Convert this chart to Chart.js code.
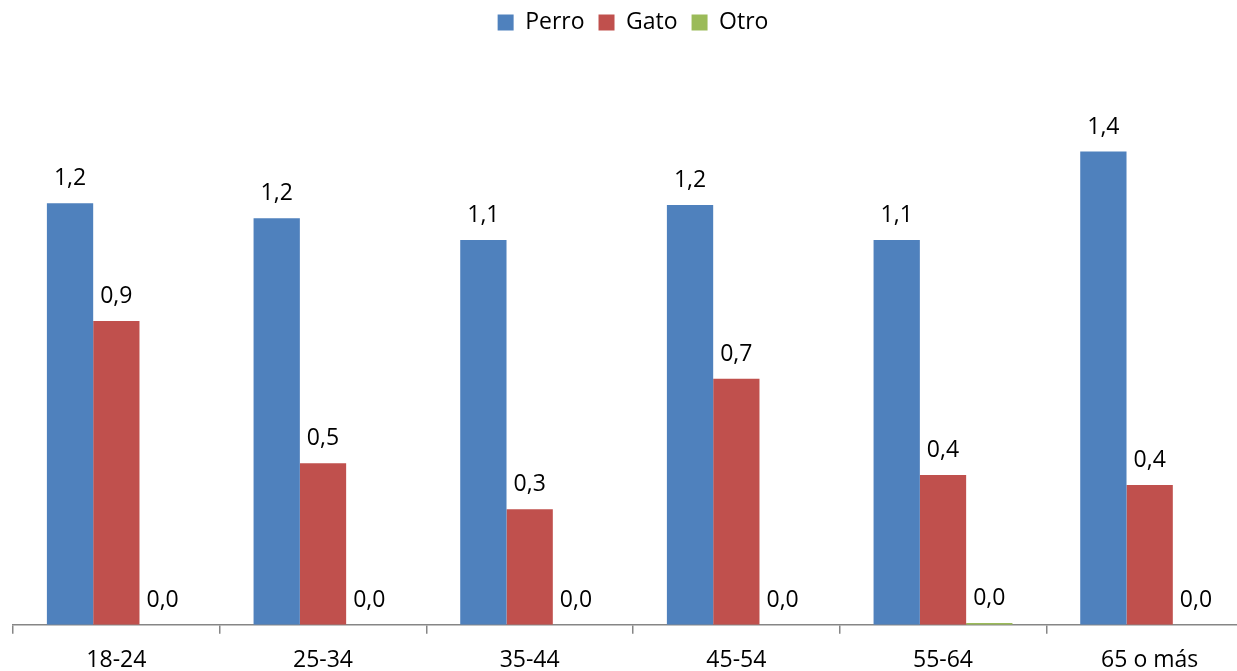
<!DOCTYPE html>
<html>
<head>
<meta charset="utf-8">
<script src="https://cdn.jsdelivr.net/npm/chart.js@4/dist/chart.umd.min.js"></script>
<style>
  html, body { margin: 0; padding: 0; background: #ffffff; overflow: hidden; }
  #wrap { position: relative; width: 1266px; height: 671px; }
</style>
</head>
<body>
<div id="wrap"><canvas id="c"></canvas></div>
<script>
const categories = ["18-24", "25-34", "35-44", "45-54", "55-64", "65 o más"];
const seriesNames = ["Perro", "Gato", "Otro"];
const perro = [1.222, 1.179, 1.116, 1.217, 1.116, 1.372];
const gato  = [0.881, 0.468, 0.335, 0.713, 0.434, 0.405];
const otro  = [0, 0, 0, 0, 0.005, 0];
const colors = ["#4F81BD", "#C0504D", "#9BBB59"];

const FONT = "'Open Sans', 'DejaVu Sans', sans-serif";

const dataLabels = {
  id: 'dataLabels',
  afterDatasetsDraw(chart) {
    const ctx = chart.ctx;
    ctx.save();
    ctx.font = "23px " + FONT;
    ctx.fillStyle = "#000000";
    ctx.textAlign = "center";
    ctx.textBaseline = "alphabetic";
    chart.data.datasets.forEach((ds, i) => {
      const meta = chart.getDatasetMeta(i);
      meta.data.forEach((bar, j) => {
        const txt = ds.data[j].toFixed(1).replace('.', ',');
        ctx.fillText(txt, bar.x, bar.y - 18);
      });
    });
    ctx.restore();
  }
};

const legendSpace = {
  id: 'legendSpace',
  beforeInit(chart) {
    const orig = chart.legend.fit;
    chart.legend.fit = function () {
      orig.call(this);
      this.height = 76;
    };
  }
};

new Chart(document.getElementById('c'), {
  type: 'bar',
  data: {
    labels: categories,
    datasets: [
      { label: seriesNames[0], data: perro, backgroundColor: colors[0] },
      { label: seriesNames[1], data: gato, backgroundColor: colors[1] },
      { label: seriesNames[2], data: otro, backgroundColor: colors[2] }
    ]
  },
  options: {
    responsive: true,
    maintainAspectRatio: false,
    animation: false,
    datasets: { bar: { categoryPercentage: 0.672, barPercentage: 1.0 } },
    layout: { padding: { left: 13, right: 13, top: -3, bottom: 0 } },
    plugins: {
      legend: {
        position: 'top',
        align: 'center',
        labels: {
          font: { family: FONT, size: 23 },
          color: '#000000',
          boxWidth: 16,
          boxHeight: 16,
          padding: 14
        }
      },
      tooltip: { enabled: false }
    },
    scales: {
      x: {
        grid: {
          display: true,
          drawOnChartArea: false,
          drawTicks: true,
          tickLength: 9,
          color: '#868686',
          lineWidth: 1.5,
          offset: true
        },
        border: { display: true, color: '#868686', width: 1.5 },
        ticks: {
          font: { family: FONT, size: 23 },
          color: '#000000',
          padding: 13,
          maxRotation: 0
        },
        afterFit(scale) { scale.height = 46.3; }
      },
      y: {
        display: false,
        min: 0,
        max: 1.6
      }
    }
  },
  plugins: [dataLabels, legendSpace]
});
</script>
</body>
</html>
